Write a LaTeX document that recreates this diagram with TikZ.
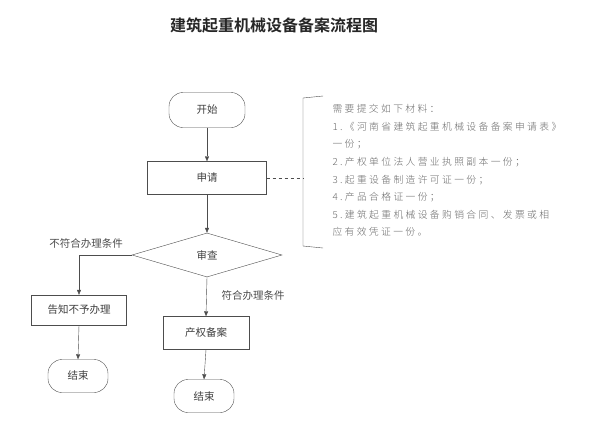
\documentclass[tikz,border=0pt]{standalone}
\usepackage{fontspec}
\usepackage{xcolor}
\setmainfont{Noto Sans CJK SC}
\newfontfamily\cjktitle{Noto Sans CJK SC Bold}
\newfontfamily\cjknote[LetterSpace=24]{Noto Sans CJK SC Light}
\usetikzlibrary{arrows.meta,shapes.geometric}

\definecolor{linegray}{HTML}{4D4D4D}
\definecolor{notegray}{HTML}{6A6A6A}

\begin{document}
\begin{tikzpicture}[
  x=1pt, y=-1pt,
  every node/.style={font=\fontsize{10.5}{12}\selectfont, text=black!75},
  box/.style={draw=linegray, fill=white, minimum height=33pt, inner sep=2pt},
  terminal/.style={draw=linegray, fill=white, rounded corners=14pt, minimum height=33pt, minimum width=60pt},
  decision/.style={draw=linegray, diamond, minimum width=150pt, minimum height=44pt, inner sep=0pt},
  label/.style={font=\fontsize{10.5}{12}\selectfont, text=black!70},
  arrow/.style={-{Triangle[length=5pt,width=4pt]}, draw=linegray},
]

\useasboundingbox (0,0) rectangle (595,426);

\node[font=\cjktitle\fontsize{16}{18}\selectfont, text=black!85] (title) at (274,25) {建筑起重机械设备备案流程图};

% main line
\node[terminal, minimum width=76pt, minimum height=35pt] (start) at (207,110) {开始};
\node[box, minimum width=119pt] (apply) at (207,178) {申请};
\node[decision] (check) at (207,255) {审查};
\node[box, minimum width=86pt] (record) at (206,333) {产权备案};
\node[terminal] (endB) at (204,396) {结束};

% refuse branch
\node[box, minimum width=95pt, minimum height=30pt] (refuse) at (79,310) {告知不予办理};
\node[terminal] (endA) at (78,376) {结束};

\node[label] (nolabel) at (86,244) {不符合办理条件};
\node[label] (yeslabel) at (253,296) {符合办理条件};

\draw[arrow] (start.south) -- (apply.north);
\draw[arrow] (apply.south) -- (check.north);
\draw[arrow] (check.west) -| (refuse.north);
\draw[arrow] (check.south) -- (record.north);
\draw[arrow] (refuse.south) -- (endA.north);
\draw[arrow] (record.south) -- (endB.north);

% materials note
\coordinate (brtop) at (323,96);
\coordinate (brbot) at (323,248);
\coordinate (brmid) at (303,178);
\draw[linegray] (brtop) -- (303,98) -- (303,246) -- (brbot);
\draw[linegray, dashed] (apply.east) -- (brmid);

\node[anchor=north west, align=left, text=notegray,
      font=\cjknote\fontsize{9.8}{17.6}\selectfont] (materials) at (329,101) {%
需要提交如下材料：\\
1.《河南省建筑起重机械设备备案申请表》\\
一份；\\
2.产权单位法人营业执照副本一份；\\
3.起重设备制造许可证一份；\\
4.产品合格证一份；\\
5.建筑起重机械设备购销合同、发票或相\\
应有效凭证一份。};

\end{tikzpicture}
\end{document}
